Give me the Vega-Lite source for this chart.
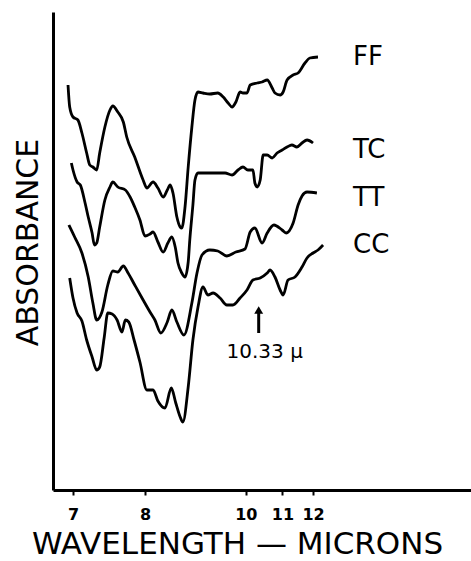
{
  "$schema": "https://vega.github.io/schema/vega-lite/v6.json",
  "width": 418,
  "height": 478,
  "autosize": {"type": "none"},
  "padding": {"left": 53, "top": 12, "right": 0, "bottom": 71},
  "background": "white",
  "config": {"view": {"stroke": null}, "font": "DejaVu Sans"},
  "datasets": {
    "spectra": [
      {"s": "FF", "w": 6.94, "a": 405}, {"s": "FF", "w": 6.96, "a": 383}, {"s": "FF", "w": 7.00, "a": 373},
      {"s": "FF", "w": 7.06, "a": 370}, {"s": "FF", "w": 7.11, "a": 357}, {"s": "FF", "w": 7.17, "a": 337},
      {"s": "FF", "w": 7.21, "a": 325}, {"s": "FF", "w": 7.25, "a": 323}, {"s": "FF", "w": 7.30, "a": 320},
      {"s": "FF", "w": 7.34, "a": 337}, {"s": "FF", "w": 7.41, "a": 363}, {"s": "FF", "w": 7.48, "a": 380},
      {"s": "FF", "w": 7.52, "a": 384}, {"s": "FF", "w": 7.59, "a": 378}, {"s": "FF", "w": 7.67, "a": 368},
      {"s": "FF", "w": 7.72, "a": 353}, {"s": "FF", "w": 7.84, "a": 333}, {"s": "FF", "w": 7.97, "a": 310},
      {"s": "FF", "w": 8.03, "a": 302}, {"s": "FF", "w": 8.13, "a": 308}, {"s": "FF", "w": 8.21, "a": 302},
      {"s": "FF", "w": 8.30, "a": 293}, {"s": "FF", "w": 8.37, "a": 300}, {"s": "FF", "w": 8.42, "a": 305},
      {"s": "FF", "w": 8.47, "a": 297}, {"s": "FF", "w": 8.54, "a": 273}, {"s": "FF", "w": 8.60, "a": 263},
      {"s": "FF", "w": 8.63, "a": 262}, {"s": "FF", "w": 8.69, "a": 283}, {"s": "FF", "w": 8.75, "a": 323},
      {"s": "FF", "w": 8.82, "a": 363}, {"s": "FF", "w": 8.88, "a": 390}, {"s": "FF", "w": 8.94, "a": 398},
      {"s": "FF", "w": 9.04, "a": 397}, {"s": "FF", "w": 9.18, "a": 396}, {"s": "FF", "w": 9.35, "a": 397},
      {"s": "FF", "w": 9.47, "a": 393}, {"s": "FF", "w": 9.58, "a": 387}, {"s": "FF", "w": 9.67, "a": 383},
      {"s": "FF", "w": 9.76, "a": 388}, {"s": "FF", "w": 9.86, "a": 398}, {"s": "FF", "w": 9.93, "a": 397},
      {"s": "FF", "w": 10.03, "a": 397}, {"s": "FF", "w": 10.11, "a": 405}, {"s": "FF", "w": 10.29, "a": 407},
      {"s": "FF", "w": 10.42, "a": 408}, {"s": "FF", "w": 10.56, "a": 410}, {"s": "FF", "w": 10.70, "a": 402},
      {"s": "FF", "w": 10.78, "a": 397}, {"s": "FF", "w": 10.93, "a": 395}, {"s": "FF", "w": 11.02, "a": 398},
      {"s": "FF", "w": 11.14, "a": 410}, {"s": "FF", "w": 11.33, "a": 415}, {"s": "FF", "w": 11.49, "a": 417},
      {"s": "FF", "w": 11.72, "a": 427}, {"s": "FF", "w": 11.89, "a": 432}, {"s": "FF", "w": 12.18, "a": 433},

      {"s": "TC", "w": 6.98, "a": 327}, {"s": "TC", "w": 7.00, "a": 320}, {"s": "TC", "w": 7.05, "a": 308},
      {"s": "TC", "w": 7.09, "a": 305}, {"s": "TC", "w": 7.15, "a": 287}, {"s": "TC", "w": 7.19, "a": 273},
      {"s": "TC", "w": 7.24, "a": 257}, {"s": "TC", "w": 7.27, "a": 245}, {"s": "TC", "w": 7.30, "a": 247},
      {"s": "TC", "w": 7.34, "a": 263}, {"s": "TC", "w": 7.41, "a": 290}, {"s": "TC", "w": 7.48, "a": 303},
      {"s": "TC", "w": 7.52, "a": 308}, {"s": "TC", "w": 7.59, "a": 303}, {"s": "TC", "w": 7.70, "a": 300},
      {"s": "TC", "w": 7.77, "a": 293}, {"s": "TC", "w": 7.84, "a": 283}, {"s": "TC", "w": 7.92, "a": 270},
      {"s": "TC", "w": 8.00, "a": 254}, {"s": "TC", "w": 8.08, "a": 256}, {"s": "TC", "w": 8.13, "a": 258},
      {"s": "TC", "w": 8.21, "a": 248}, {"s": "TC", "w": 8.30, "a": 238}, {"s": "TC", "w": 8.38, "a": 247},
      {"s": "TC", "w": 8.45, "a": 253}, {"s": "TC", "w": 8.51, "a": 243}, {"s": "TC", "w": 8.56, "a": 227},
      {"s": "TC", "w": 8.63, "a": 217}, {"s": "TC", "w": 8.69, "a": 213}, {"s": "TC", "w": 8.75, "a": 228},
      {"s": "TC", "w": 8.78, "a": 250}, {"s": "TC", "w": 8.84, "a": 285}, {"s": "TC", "w": 8.88, "a": 310},
      {"s": "TC", "w": 8.94, "a": 317}, {"s": "TC", "w": 9.08, "a": 317}, {"s": "TC", "w": 9.29, "a": 317},
      {"s": "TC", "w": 9.51, "a": 317}, {"s": "TC", "w": 9.67, "a": 315}, {"s": "TC", "w": 9.81, "a": 320},
      {"s": "TC", "w": 9.93, "a": 323}, {"s": "TC", "w": 10.05, "a": 320}, {"s": "TC", "w": 10.18, "a": 320},
      {"s": "TC", "w": 10.23, "a": 307}, {"s": "TC", "w": 10.29, "a": 303}, {"s": "TC", "w": 10.37, "a": 310},
      {"s": "TC", "w": 10.45, "a": 335}, {"s": "TC", "w": 10.56, "a": 335}, {"s": "TC", "w": 10.70, "a": 332},
      {"s": "TC", "w": 10.84, "a": 337}, {"s": "TC", "w": 10.99, "a": 340}, {"s": "TC", "w": 11.14, "a": 343},
      {"s": "TC", "w": 11.29, "a": 345}, {"s": "TC", "w": 11.45, "a": 343}, {"s": "TC", "w": 11.62, "a": 347},
      {"s": "TC", "w": 11.79, "a": 350}, {"s": "TC", "w": 12.00, "a": 347},

      {"s": "TT", "w": 6.95, "a": 265}, {"s": "TT", "w": 7.02, "a": 253}, {"s": "TT", "w": 7.11, "a": 237},
      {"s": "TT", "w": 7.19, "a": 213}, {"s": "TT", "w": 7.25, "a": 187}, {"s": "TT", "w": 7.30, "a": 170},
      {"s": "TT", "w": 7.37, "a": 178}, {"s": "TT", "w": 7.45, "a": 205}, {"s": "TT", "w": 7.52, "a": 219},
      {"s": "TT", "w": 7.59, "a": 218}, {"s": "TT", "w": 7.67, "a": 224}, {"s": "TT", "w": 7.74, "a": 217},
      {"s": "TT", "w": 7.84, "a": 205}, {"s": "TT", "w": 7.97, "a": 190}, {"s": "TT", "w": 8.08, "a": 178},
      {"s": "TT", "w": 8.16, "a": 170}, {"s": "TT", "w": 8.26, "a": 157}, {"s": "TT", "w": 8.37, "a": 168},
      {"s": "TT", "w": 8.45, "a": 180}, {"s": "TT", "w": 8.54, "a": 168}, {"s": "TT", "w": 8.67, "a": 155},
      {"s": "TT", "w": 8.82, "a": 187}, {"s": "TT", "w": 8.92, "a": 217}, {"s": "TT", "w": 9.02, "a": 235},
      {"s": "TT", "w": 9.18, "a": 240}, {"s": "TT", "w": 9.35, "a": 239}, {"s": "TT", "w": 9.55, "a": 234},
      {"s": "TT", "w": 9.76, "a": 238}, {"s": "TT", "w": 9.98, "a": 241}, {"s": "TT", "w": 10.11, "a": 258},
      {"s": "TT", "w": 10.23, "a": 262}, {"s": "TT", "w": 10.42, "a": 247}, {"s": "TT", "w": 10.56, "a": 257},
      {"s": "TT", "w": 10.75, "a": 265}, {"s": "TT", "w": 10.99, "a": 260}, {"s": "TT", "w": 11.11, "a": 257},
      {"s": "TT", "w": 11.33, "a": 267}, {"s": "TT", "w": 11.49, "a": 285}, {"s": "TT", "w": 11.62, "a": 294},
      {"s": "TT", "w": 11.79, "a": 298}, {"s": "TT", "w": 12.14, "a": 297},

      {"s": "CC", "w": 6.96, "a": 212}, {"s": "CC", "w": 7.00, "a": 192}, {"s": "CC", "w": 7.05, "a": 177},
      {"s": "CC", "w": 7.11, "a": 169}, {"s": "CC", "w": 7.17, "a": 150}, {"s": "CC", "w": 7.24, "a": 133},
      {"s": "CC", "w": 7.30, "a": 120}, {"s": "CC", "w": 7.34, "a": 123}, {"s": "CC", "w": 7.40, "a": 152},
      {"s": "CC", "w": 7.45, "a": 177}, {"s": "CC", "w": 7.51, "a": 176}, {"s": "CC", "w": 7.58, "a": 170},
      {"s": "CC", "w": 7.65, "a": 158}, {"s": "CC", "w": 7.70, "a": 170}, {"s": "CC", "w": 7.75, "a": 168},
      {"s": "CC", "w": 7.83, "a": 150}, {"s": "CC", "w": 7.92, "a": 128}, {"s": "CC", "w": 8.03, "a": 100},
      {"s": "CC", "w": 8.13, "a": 100}, {"s": "CC", "w": 8.21, "a": 89}, {"s": "CC", "w": 8.33, "a": 82},
      {"s": "CC", "w": 8.44, "a": 102}, {"s": "CC", "w": 8.52, "a": 87}, {"s": "CC", "w": 8.60, "a": 73},
      {"s": "CC", "w": 8.65, "a": 68}, {"s": "CC", "w": 8.75, "a": 103}, {"s": "CC", "w": 8.84, "a": 150},
      {"s": "CC", "w": 8.94, "a": 183}, {"s": "CC", "w": 9.04, "a": 203}, {"s": "CC", "w": 9.14, "a": 195},
      {"s": "CC", "w": 9.25, "a": 197}, {"s": "CC", "w": 9.40, "a": 192}, {"s": "CC", "w": 9.55, "a": 185},
      {"s": "CC", "w": 9.69, "a": 185}, {"s": "CC", "w": 9.86, "a": 192}, {"s": "CC", "w": 10.03, "a": 200},
      {"s": "CC", "w": 10.18, "a": 210}, {"s": "CC", "w": 10.37, "a": 212}, {"s": "CC", "w": 10.56, "a": 217},
      {"s": "CC", "w": 10.64, "a": 220}, {"s": "CC", "w": 10.78, "a": 213}, {"s": "CC", "w": 10.93, "a": 200},
      {"s": "CC", "w": 11.02, "a": 195}, {"s": "CC", "w": 11.17, "a": 210}, {"s": "CC", "w": 11.39, "a": 213},
      {"s": "CC", "w": 11.62, "a": 223}, {"s": "CC", "w": 11.79, "a": 232}, {"s": "CC", "w": 12.00, "a": 237},
      {"s": "CC", "w": 12.18, "a": 240}, {"s": "CC", "w": 12.37, "a": 245}
    ],
    "names": [
      {"label": "FF", "w": 13.62, "a": 433},
      {"label": "TC", "w": 13.62, "a": 340},
      {"label": "TT", "w": 13.62, "a": 292},
      {"label": "CC", "w": 13.62, "a": 245}
    ],
    "band": [
      {"label": "10.33 µ", "w": 10.33, "a": 138, "tail": 157, "head": 180}
    ]
  },
  "layer": [
    {
      "data": {"name": "spectra"},
      "mark": {"type": "line", "color": "black", "strokeWidth": 2.8, "interpolate": "monotone", "strokeJoin": "round"},
      "encoding": {
        "x": {
          "field": "w",
          "type": "quantitative",
          "scale": {"type": "pow", "exponent": -1, "domain": [6.765, 22.65], "zero": false, "nice": false},
          "axis": {
            "values": [7, 8, 10, 11, 12],
            "title": "WAVELENGTH — MICRONS",
            "grid": false,
            "domainColor": "black",
            "domainWidth": 3,
            "tickColor": "black",
            "tickWidth": 2,
            "tickSize": 5,
            "labelFontSize": 16,
            "labelFontWeight": "bold",
            "labelColor": "black",
            "labelPadding": 11,
            "titleFontSize": 31,
            "titleFontWeight": "normal",
            "titleColor": "black",
            "titleX": 184,
            "titleY": 63,
            "titleAlign": "center",
            "titleBaseline": "alphabetic"
          }
        },
        "y": {
          "field": "a",
          "type": "quantitative",
          "scale": {"domain": [0, 478], "zero": false, "nice": false},
          "axis": {
            "title": "ABSORBANCE",
            "labels": false,
            "ticks": false,
            "grid": false,
            "domainColor": "black",
            "domainWidth": 3,
            "titleFontSize": 30,
            "titleFontWeight": "normal",
            "titleColor": "black",
            "titleAngle": -90,
            "titleX": -16,
            "titleY": 230,
            "titleAlign": "center",
            "titleBaseline": "alphabetic"
          }
        },
        "detail": {"field": "s"}
      }
    },
    {
      "data": {"name": "names"},
      "mark": {"type": "text", "align": "left", "baseline": "middle", "fontSize": 26, "color": "black"},
      "encoding": {
        "x": {"field": "w", "type": "quantitative"},
        "y": {"field": "a", "type": "quantitative"},
        "text": {"field": "label"}
      }
    },
    {
      "data": {"name": "band"},
      "mark": {"type": "rule", "color": "black", "strokeWidth": 3},
      "encoding": {
        "x": {"field": "w", "type": "quantitative"},
        "y": {"field": "tail", "type": "quantitative"},
        "y2": {"field": "head"}
      }
    },
    {
      "data": {"name": "band"},
      "mark": {"type": "point", "shape": "triangle-up", "filled": true, "color": "black", "size": 80, "opacity": 1},
      "encoding": {
        "x": {"field": "w", "type": "quantitative"},
        "y": {"field": "head", "type": "quantitative"}
      }
    },
    {
      "data": {"name": "band"},
      "mark": {"type": "text", "align": "center", "baseline": "middle", "fontSize": 20, "dx": 6, "color": "black"},
      "encoding": {
        "x": {"field": "w", "type": "quantitative"},
        "y": {"field": "a", "type": "quantitative"},
        "text": {"field": "label"}
      }
    }
  ]
}
